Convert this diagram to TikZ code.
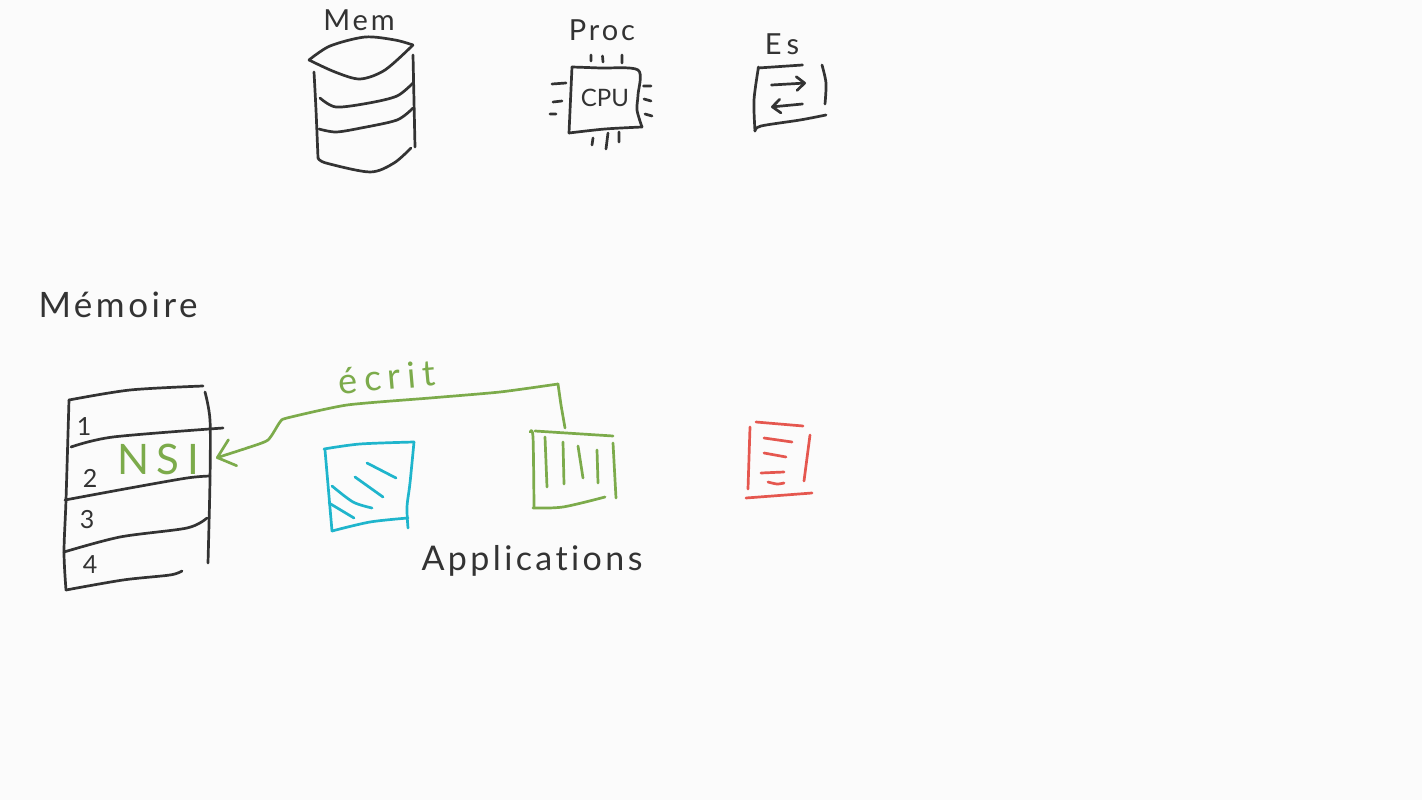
\documentclass[tikz,border=0pt]{standalone}
\usepackage{fontspec}
\usetikzlibrary{arrows.meta}
\newfontfamily\handfont[LetterSpace=10,Ligatures=NoCommon]{Lato}
\newfontfamily\handwide[LetterSpace=18,Ligatures=NoCommon]{Lato}
\definecolor{paper}{HTML}{FBFBFB}
\definecolor{inkdark}{HTML}{333333}
\definecolor{inkgreen}{HTML}{7CAB4B}
\definecolor{inkblue}{HTML}{1FB5CC}
\definecolor{inkred}{HTML}{E5574F}
\tikzset{
  ink/.style={line width=2.7pt,line cap=round,line join=round,draw=inkdark},
  greenink/.style={ink,draw=inkgreen},
  blueink/.style={ink,draw=inkblue},
  redink/.style={ink,draw=inkred},
  curve/.style={smooth,tension=0.5},
  label/.style={inner sep=0pt,text=inkdark,font=\handfont\fontsize{#1}{#1}\selectfont},
  widelabel/.style={inner sep=0pt,text=inkgreen,font=\handwide\fontsize{#1}{#1}\selectfont},
  barb/.style={-{Straight Barb[length=#1,width=1.7*#1,line width=2.7pt,round]}}
}
\begin{document}
\begin{tikzpicture}[x=1pt,y=-1pt]
\fill[paper] (0,0) rectangle (1422,800);
\useasboundingbox (0,0) rectangle (1422,800);

% Labels top
\node[label=29] (mem) at (359,20) {Mem};
\node[label=29] (proc) at (602,30) {Proc};
\node[widelabel=29,text=inkdark] (es) at (782,44) {Es};

% Cylinder
\draw[ink] plot[curve] coordinates {(309,60) (330,46) (365,37) (395,40) (413,45)};
\draw[ink] plot[curve] coordinates {(309,60) (335,72) (360,79) (385,70) (413,45)};
\draw[ink] plot[curve] coordinates {(314,72) (316,110) (318,158)};
\draw[ink] (413,55) -- (415,147);
\draw[ink] plot[curve] coordinates {(320,98) (336,107) (369,103) (397,96) (413,83)};
\draw[ink] plot[curve] coordinates {(319,129) (336,132) (361,128) (397,120) (413,108)};
\draw[ink] plot[curve] coordinates {(318,158) (326,163) (370,172) (394,163) (411,148)};

% CPU
\node[inner sep=0pt,text=inkdark,font=\fontspec{Lato}\fontsize{24}{24}\selectfont] (cpu) at (605,98) {CPU};
\draw[ink] plot[curve] coordinates {(572,67) (600,68) (638,70) (638,95) (637,110) (642,127)};
\draw[ink] plot[curve] coordinates {(642,127) (605,129) (569,133)};
\draw[ink] (569,133) -- (572,67);
\draw[ink] (591,55) -- (591,61) (602.5,56) -- (603,62) (622,55) -- (622,63);
\draw[ink] (593,138) -- (592,145) (608,133) -- (606,149) (619,132) -- (619,142);
\draw[ink] (552,84) -- (566,83) (553,102) -- (562,101) (550,114) -- (556,114);
\draw[ink] (643.5,86) -- (651,86) (644,99) -- (651,101) (645,114) -- (652,116);

% Es box
\draw[ink] (758,68) -- (802.5,65);
\draw[ink] plot[curve] coordinates {(758.5,67) (754,100) (755,131)};
\draw[ink] plot[curve] coordinates {(755,131) (761,126) (800,120) (826,115)};
\draw[ink] plot[curve] coordinates {(822,65) (826,83) (825,104)};
\draw[ink,barb=8pt] (771.5,85) -- (806,83);
\draw[ink,barb=8pt] (802.5,104) -- (771,107);

% Mémoire
\node[label=35] (memoire) at (118,305) {Mémoire};

% Memory table
\draw[ink] plot[curve] coordinates {(69,400) (130,390) (203,386)};
\draw[ink] plot[curve] coordinates {(69,400) (66,500) (64,552) (66,590)};
\draw[ink] plot[curve] coordinates {(205,392) (210,420) (210,480) (208,563)};
\draw[ink] plot[curve] coordinates {(71,447) (113,437) (223,428)};
\draw[ink] plot[curve] coordinates {(65,500) (130,488) (187,478) (210,476)};
\draw[ink] plot[curve] coordinates {(64,552) (120,537) (187,528) (207,518)};
\draw[ink] plot[curve] coordinates {(66,590) (123,580) (170,575) (182,571)};
\node[label=25] (one) at (84,427) {1};
\node[label=25] (two) at (90,478) {2};
\node[label=25] (three) at (87,520) {3};
\node[label=25] (four) at (90,565) {4};
\node[widelabel=42] (nsi) at (158,459) {NSI};

% Blue application
\draw[blueink] plot[curve] coordinates {(324,449) (360,444) (414,442)};
\draw[blueink] (325,450) -- (332,531);
\draw[blueink] plot[curve] coordinates {(414,442) (410,483) (407,507) (408,528)};
\draw[blueink] plot[curve] coordinates {(332,531) (370,522) (408,518)};
\draw[blueink] (367,463) -- (396,478) (355,477) -- (383,497) (329,503) -- (354,518);
\draw[blueink] plot[curve] coordinates {(332,486) (353,502) (372,508)};

% Green application
\draw[greenink] (535,431) -- (613,436);
\draw[greenink] plot[curve] coordinates {(530,432) (533,437) (534,507)};
\draw[greenink] plot[curve] coordinates {(533,508) (563,507) (605,497)};
\draw[greenink] plot[curve] coordinates {(613,443) (616,498)};
\draw[greenink] (545,437) -- (547,487) (563,442) -- (564,484) (578,446) -- (583,478) (597,450) -- (598,483);

% Red application
\draw[redink] (756,422) -- (803,426);
\draw[redink] (750,427) -- (748,489);
\draw[redink] (810,435) -- (804,481);
\draw[redink] (746,498) -- (812,493);
\draw[redink] (764,438) -- (792,442) (764,453) -- (786,457) (761,473) -- (784,472);
\draw[redink] plot[curve] coordinates {(768,482) (777,484) (784,483)};

% Connector
\coordinate (appgreen) at (565,428);
\coordinate (slot) at (216,458);
\draw[greenink] (appgreen) -- (561,405) -- (558,384);
\draw[greenink,barb=16pt] plot[smooth,tension=0.35] coordinates {(558,384) (500,392) (430,398) (347,405) (287,418) (280,422) (268,440) (247,448) (slot)};
\node[widelabel=36,rotate=5] (ecrit) at (387,377) {écrit};

% Applications
\node[label=34] (apps) at (532,561) {Applications};
\end{tikzpicture}
\end{document}
